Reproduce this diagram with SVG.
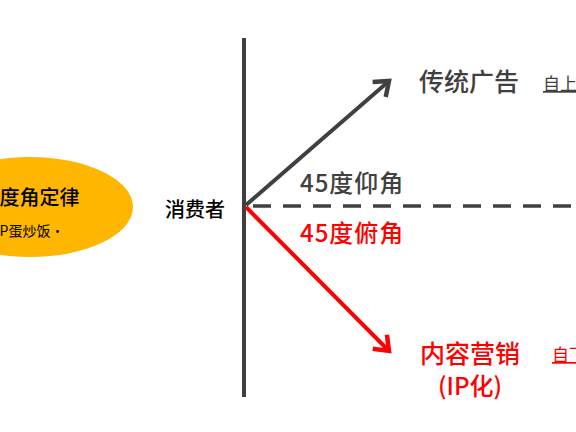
<svg xmlns="http://www.w3.org/2000/svg" width="576" height="432" viewBox="0 0 576 432">
<defs>
<style>
.t{font-family:"Noto Sans CJK SC","Noto Sans",sans-serif;font-weight:500}
.n{font-weight:normal}
.g{fill:#404040}
.r{fill:#FF0000}
</style>
<marker id="ag" markerUnits="userSpaceOnUse" markerWidth="30" markerHeight="30" refX="16" refY="12" orient="auto" viewBox="0 0 30 24">
<path d="M3,2 L16,12 L3,22" fill="none" stroke="#404040" stroke-width="4.5" stroke-linejoin="miter"/>
</marker>
<marker id="ar" markerUnits="userSpaceOnUse" markerWidth="30" markerHeight="30" refX="16" refY="12" orient="auto" viewBox="0 0 30 24">
<path d="M3,2 L16,12 L3,22" fill="none" stroke="#FF0000" stroke-width="4.5" stroke-linejoin="miter"/>
</marker>
</defs>
<rect width="576" height="432" fill="#FFFFFF"/>
<g id="law">
<ellipse cx="30" cy="207" rx="103" ry="50" fill="#FFB600"/>
<text class="t" x="28" y="205" font-size="20" font-weight="bold" text-anchor="middle" fill="#000">45度角定律</text>
<text class="t n" x="30" y="236" font-size="14" text-anchor="middle" fill="#000">IP蛋炒饭·</text>
</g>
<g id="consumer">
<text class="t" x="195" y="217" font-size="20" text-anchor="middle" fill="#000">消费者</text>
</g>
<g id="connectors">
<line x1="244" y1="38" x2="244" y2="397" stroke="#404040" stroke-width="4"/>
<line x1="250" y1="206" x2="576" y2="206" stroke="#404040" stroke-width="3.5" stroke-dasharray="18 12" stroke-dashoffset="-3"/>
<line x1="246" y1="205" x2="389" y2="81" stroke="#404040" stroke-width="4" marker-end="url(#ag)"/>
<line x1="246" y1="207" x2="389" y2="351" stroke="#FF0000" stroke-width="4" marker-end="url(#ar)"/>
</g>
<g id="up-label">
<text class="t g" x="300" y="192" font-size="24" letter-spacing="1">45度仰角</text>
</g>
<g id="down-label">
<text class="t r" x="300" y="242" font-size="24" letter-spacing="1">45度俯角</text>
</g>
<g id="traditional">
<text class="t g" x="419" y="91" font-size="25">传统广告</text>
<text class="t g n" x="543" y="90" font-size="17" text-decoration="underline">自上而下</text>
</g>
<g id="content">
<text class="t r" x="470" y="363" font-size="25" text-anchor="middle">内容营销</text>
<text class="t r" x="470" y="395" font-size="24" text-anchor="middle">(IP化)</text>
<text class="t r n" x="552" y="361" font-size="17" text-decoration="underline">自下而上</text>
</g>
</svg>
